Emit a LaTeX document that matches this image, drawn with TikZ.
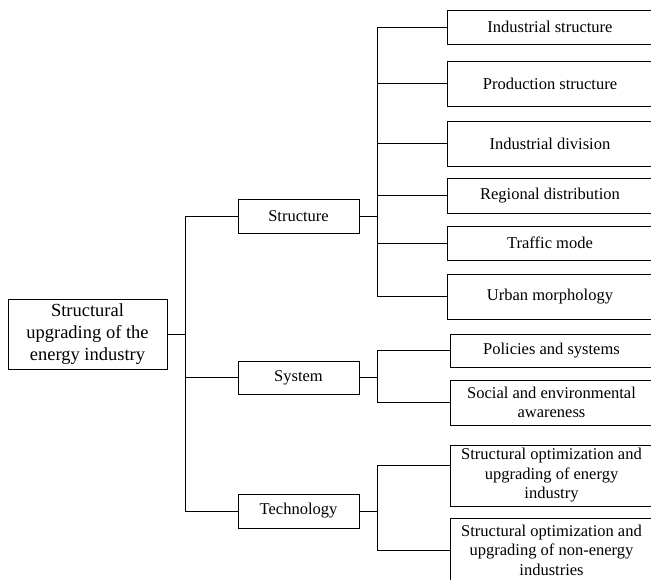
\documentclass[tikz,border=0pt]{standalone}
\usepackage{fontspec}
\setmainfont{Liberation Serif}
\begin{document}
\begin{tikzpicture}[x=1pt,y=-1pt,
  box/.style={draw, line width=0.8pt, align=center, inner sep=0pt,
    font=\fontsize{16.5}{19.5}\selectfont},
  mid/.style={box, minimum width=121, minimum height=34},
  leaf/.style={box, minimum width=206},
  conn/.style={line width=0.9pt}]
\clip (0,0) rectangle (651,580);
% root
\node[box, minimum width=159, minimum height=70, font=\fontsize{18.5}{22}\selectfont] (root) at (87.5,334)
  {Structural\\upgrading of the\\energy industry};
% middle level
\node[mid] (s1) at (298.5,216) {Structure};
\node[mid, minimum height=33] (s2) at (298.5,377.5) {System};
\node[mid] (s3) at (298.5,511) {Technology};
% structure leaves
\node[leaf, minimum height=34] (l1) at (550,27) {Industrial structure};
\node[leaf, minimum height=45] (l2) at (550,83.5) {Production structure};
\node[leaf, minimum height=45] (l3) at (550,143.5) {Industrial division};
\node[leaf, minimum height=35] (l4) at (550,195.5) {Regional distribution};
\node[leaf, minimum height=34] (l5) at (550,243) {Traffic mode};
\node[leaf, minimum height=45] (l6) at (550,296.5) {Urban morphology};
% system leaves
\node[leaf, minimum width=203, minimum height=33] (p1) at (551.5,350.5) {Policies and systems};
\node[leaf, minimum width=203, minimum height=45] (p2) at (551.5,402.5) {Social and environmental\\awareness};
% technology leaves
\node[leaf, minimum width=203, minimum height=61] (q1) at (551.5,475.5) {Structural optimization and\\upgrading of energy\\industry};
\node[leaf, minimum width=203, minimum height=64] (q2) at (551.5,550) {Structural optimization and\\upgrading of non-energy\\industries};
% bus coordinates
\coordinate (b0) at (185,0);
\coordinate (b1) at (377,0);
\coordinate (c31) at (377,465);
% root connectors
\draw[conn] (root.east) -- (root.east -| b0);
\draw[conn] (s1.west -| b0) -- (s3.west -| b0);
\foreach \n in {s1,s2,s3} \draw[conn] (\n.west -| b0) -- (\n.west);
% structure connectors
\draw[conn] (s1.east) -- (s1.east -| b1);
\draw[conn] (l1.west -| b1) -- (l6.west -| b1);
\foreach \n in {l1,l2,l3,l4,l5,l6} \draw[conn] (\n.west -| b1) -- (\n.west);
% system connectors
\draw[conn] (s2.east) -- (s2.east -| b1);
\draw[conn] (p1.west -| b1) -- (p2.west -| b1);
\foreach \n in {p1,p2} \draw[conn] (\n.west -| b1) -- (\n.west);
% technology connectors
\draw[conn] (s3.east) -- (s3.east -| b1);
\draw[conn] (c31) -- (q2.west -| b1);
\draw[conn] (c31) -- (c31 -| q1.west);
\draw[conn] (q2.west -| b1) -- (q2.west);
\end{tikzpicture}
\end{document}
